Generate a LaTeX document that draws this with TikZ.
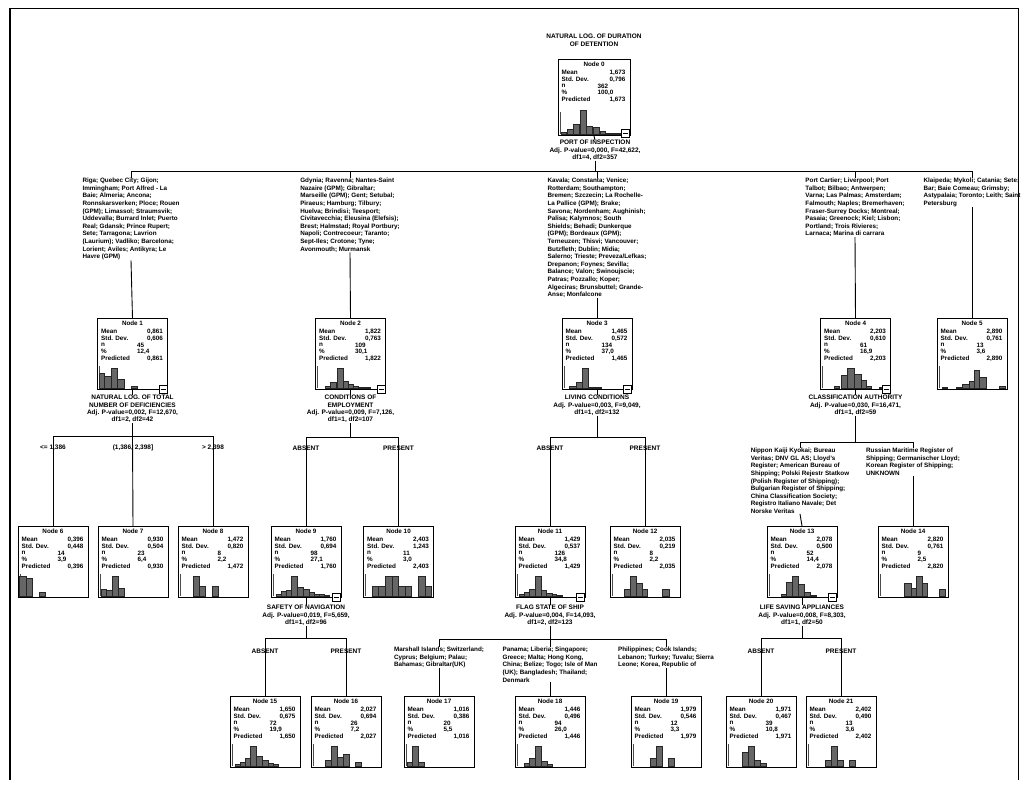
\documentclass[tikz,border=0pt]{standalone}
\usepackage{fontspec}
\setmainfont{Liberation Sans}
\usetikzlibrary{calc}
\begin{document}
\begin{tikzpicture}[x=1pt,y=-1pt,
  box/.style={draw=black, line width=1pt, minimum width=70pt, minimum height=71pt, anchor=north, inner sep=0pt},
  hd/.style={font=\fontsize{6.3}{6.5}\selectfont\bfseries, inner sep=0pt},
  lbl/.style={font=\fontsize{6.3}{6.5}\selectfont\bfseries, inner sep=0pt, anchor=west},
  val/.style={font=\fontsize{6.3}{6.5}\selectfont\bfseries, inner sep=0pt, anchor=east},
  lst/.style={font=\fontsize{6.3}{7.6}\selectfont\bfseries, align=left, inner sep=0pt, anchor=north},
  spl/.style={font=\fontsize{6.5}{7.4}\selectfont\bfseries, align=center, inner sep=0pt, anchor=north},
  cat/.style={font=\fontsize{6.5}{7.4}\selectfont\bfseries, inner sep=0pt},
  link/.style={draw=black, line width=0.9pt},
  bar/.style={fill=black!60, draw=black!85, line width=0.3pt},
  axis/.style={draw=black!70, line width=0.5pt},
]
\useasboundingbox (0,0) rectangle (1027,787);
\fill[white] (0,0) rectangle (1027,787);

% one tree node: name, centre x, top y, number, mean, std. dev., n, percent, histogram bars
\newcommand{\tnode}[9]{%
  \node[box] (#1) at (#2,#3) {};
  \node[hd] (#1-h) at ($(#1.north)+(0,5.5)$) {Node #4};
  \node[lbl] (#1-ml) at ($(#1.north west)+(4,13.5)$) {Mean};
  \node[val] (#1-mv) at ($(#1.north east)+(-5,13.5)$) {#5};
  \node[lbl] (#1-sl) at ($(#1.north west)+(4,20.5)$) {Std. Dev.};
  \node[val] (#1-sv) at ($(#1.north east)+(-5,20.5)$) {#6};
  \node[lbl] (#1-nl) at ($(#1.north west)+(4,27)$) {n};
  \node[lbl] (#1-nv) at ($(#1.north west)+(40,27)$) {#7};
  \node[lbl] (#1-pl) at ($(#1.north west)+(4,33.5)$) {\%};
  \node[lbl] (#1-pv) at ($(#1.north west)+(40,33.5)$) {#8};
  \node[lbl] (#1-rl) at ($(#1.north west)+(4,40.5)$) {Predicted};
  \node[val] (#1-rv) at ($(#1.north east)+(-5,40.5)$) {#5};
  \draw[axis] ($(#1.south west)+(2.5,-2)$) -- ++(0,-22);
  \foreach \o/\w/\h in {#9} {\fill[bar] ($(#1.south west)+(\o,-2)$) rectangle ++(\w,-\h);}
}
% collapse toggle at the lower right corner of a split node
\newcommand{\tgl}[2][3]{%
  \draw[fill=white, line width=0.6pt] ($(#2.south east)+(-9,-8+#1)$) rectangle ($(#2.south east)+(-1,#1)$);
  \draw[line width=0.6pt] ($(#2.south east)+(-7.5,-4+#1)$) -- ++(5,0);
}

% page frame
\draw[line width=1.6pt] (10,8) -- (10,780);
\draw[line width=0.8pt] (10,8) -- (1018,8) -- (1018,780);

% ---------- root ----------
\node[spl] (title) at (594,34) {NATURAL LOG. OF DURATION\\OF DETENTION};
\begin{scope}[box/.append style={minimum width=72pt, minimum height=76pt}]
\tnode{n0}{594}{59}{0}{1,673}{0,796}{362}{100,0}{4/5/2,10/6/5,16/6/10,23/6/24,29/6/8,36/6/7,43/5/3,49/14/1}
\end{scope}
\node[spl] (s0) at (595,140) {PORT OF INSPECTION\\Adj. P-value=0,000, F=42,622,\\df1=4, df2=357};
\coordinate (j0) at (595,171);

% ---------- first split ----------
\node[lst] (c1) at (131,178) {Riga; Quebec City; Gijon;\\Immingham; Port Alfred - La\\Baie; Almeria; Ancona;\\Ronnskarsverken; Ploce; Rouen\\(GPM); Limassol; Straumsvik;\\Uddevalla; Burrard Inlet; Puerto\\Real; Gdansk; Prince Rupert;\\Sete; Tarragona; Lavrion\\(Laurium); Vadliko; Barcelona;\\Lorient; Aviles; Antikyra; Le\\Havre (GPM)};
\node[lst] (c2) at (350,178) {Gdynia; Ravenna; Nantes-Saint\\Nazaire (GPM); Gibraltar;\\Marseille (GPM); Gent; Setubal;\\Piraeus; Hamburg; Tilbury;\\Huelva; Brindisi; Teesport;\\Civitavecchia; Eleusina (Elefsis);\\Brest; Halmstad; Royal Portbury;\\Napoli; Contrecoeur; Taranto;\\Sept-Iles; Crotone; Tyne;\\Avonmouth; Murmansk};
\node[lst] (c3) at (597,178) {Kavala; Constanta; Venice;\\Rotterdam; Southampton;\\Bremen; Szczecin; La Rochelle-\\La Pallice (GPM); Brake;\\Savona; Nordenham; Aughinish;\\Palisa; Kalymnos; South\\Shields; Behadi; Dunkerque\\(GPM); Bordeaux (GPM);\\Terneuzen; Thisvi; Vancouver;\\Butzfleth; Dublin; Midia;\\Salerno; Trieste; Preveza/Lefkas;\\Drepanon; Foynes; Sevilla;\\Balance; Valon; Swinoujscie;\\Patras; Pozzallo; Koper;\\Algeciras; Brunsbuttel; Grande-\\Anse; Monfalcone};
\node[lst] (c4) at (855,178) {Port Cartier; Liverpool; Port\\Talbot; Bilbao; Antwerpen;\\Varna; Las Palmas; Amsterdam;\\Falmouth; Naples; Bremerhaven;\\Fraser-Surrey Docks; Montreal;\\Pasaia; Greenock; Kiel; Lisbon;\\Portland; Trois Rivieres;\\Larnaca; Marina di carrara};
\node[lst] (c5) at (972,178) {Klaipeda; Mykoli; Catania; Sete;\\Bar; Baie Comeau; Grimsby;\\Astypalaia; Toronto; Leith; Saint\\Petersburg};

\draw[link] (n0.south) -- (s0.north);
\draw[link] (s0.south) -- (j0);
\foreach \c in {c1,c2,c3,c4,c5} {\draw[link] (j0) -| (\c.north);}

\tnode{n1}{132.5}{318}{1}{0,861}{0,606}{45}{12,4}{2/5/15,7/7/12,14/6/20,20/7/9,34/6/2}
\tnode{n2}{350.5}{318}{2}{1,822}{0,763}{109}{30,1}{10/5/2,15/6/6,22/6/20,28/5/7,33/5/4,38/5/2,43/12/1}
\tnode{n3}{597}{318}{3}{1,465}{0,572}{134}{37,0}{8/7/2,15/6/6,21/6/20,27/6/1,33/7/1}
\tnode{n4}{855.5}{318}{4}{2,203}{0,610}{61}{16,9}{14/5/2,21/6/13,27/7/20,34/7/14,41/5/8,46/5/2,59/7/1}
\tnode{n5}{972}{318}{5}{2,890}{0,761}{13}{3,6}{6/5/1,20/5/1,26/7/4,33/5/7,38/5/18,43/7/11,63/6/2}
\foreach \i in {1,...,5} {\draw[link] (c\i.south) -- (n\i.north);}
\tgl[1]{n0}
\foreach \i in {1,2,3,4} {\tgl{n\i}}

% ---------- second level splits ----------
\node[spl] (s1) at (132.5,395) {NATURAL LOG. OF TOTAL\\NUMBER OF DEFICIENCIES\\Adj. P-value=0,002, F=12,670,\\df1=2, df2=42};
\node[spl] (s2) at (350.5,395) {CONDITIONS OF\\EMPLOYMENT\\Adj. P-value=0,009, F=7,126,\\df1=1, df2=107};
\node[spl] (s3) at (597,395) {LIVING CONDITIONS\\Adj. P-value=0,003, F=9,049,\\df1=1, df2=132};
\node[spl] (s4) at (855.5,395) {CLASSIFICATION AUTHORITY\\Adj. P-value=0,030, F=16,471,\\df1=1, df2=59};
\foreach \i in {1,2,3,4} {\draw[link] (n\i.south) -- (s\i.north);}
\coordinate (j1) at (132.5,436);
\coordinate (j2) at (350.5,437);
\coordinate (j3) at (597,437);
\coordinate (j4) at (855.5,442);
\foreach \i in {1,2,3,4} {\draw[link] (s\i.south) -- (j\i);}

\tnode{n6}{53}{526}{6}{0,396}{0,448}{14}{3,9}{2/7/20,9/6/18,22/6/4}
\tnode{n7}{133}{526}{7}{0,930}{0,504}{23}{6,4}{4/5/7,9/6/6,15/6/20,21/6/8}
\tnode{n8}{213}{526}{8}{1,472}{0,820}{8}{2,2}{16/6/20,22/6/10,35/6/10}
\tnode{n9}{306}{526}{9}{1,760}{0,694}{98}{27,1}{6/5/2,11/5/5,16/5/6,21/6/20,27/6/9,33/6/7,39/5/4,44/5/2,49/5/2,54/5/1}
\tnode{n10}{398.5}{526}{10}{2,403}{1,243}{11}{3,0}{9/6/10,15/7/10,22/7/20,29/6/20,35/7/10,42/6/10,55/7/20,62/6/10}
\tnode{n11}{550}{526}{11}{1,429}{0,537}{126}{34,8}{5/5/2,10/5/4,15/6/7,21/6/20,27/5/6,32/6/3,38/4/2,42/6/1}
\tnode{n12}{645}{526}{12}{2,035}{0,219}{8}{2,2}{15/6/7,21/6/20,27/6/13,33/5/7,53/7/7}
\tnode{n13}{802}{526}{13}{2,078}{0,500}{52}{14,4}{15/5/2,20/6/14,26/6/20,32/6/12,38/6/4,44/6/1}
\tnode{n14}{913}{526}{14}{2,820}{0,761}{9}{2,5}{27/7/13,34/5/8,39/6/20,45/5/13,62/6/7}

\node[cat] (c6) at (53,448) {<= 1,386};
\node[cat] (c7) at (133,448) {(1,386, 2,398]};
\node[cat] (c8) at (213,448) {> 2,398};
\node[cat] (c9) at (306,448) {ABSENT};
\node[cat] (c10) at (398.5,448) {PRESENT};
\node[cat] (c11) at (550,448) {ABSENT};
\node[cat] (c12) at (645,448) {PRESENT};
\node[lst] (c13) at (800,448) {Nippon Kaiji Kyokai; Bureau\\Veritas; DNV GL AS; Lloyd's\\Register; American Bureau of\\Shipping; Polski Rejestr Statkow\\(Polish Register of Shipping);\\Bulgarian Register of Shipping;\\China Classification Society;\\Registro Italiano Navale; Det\\Norske Veritas};
\node[lst] (c14) at (913,448) {Russian Maritime Register of\\Shipping; Germanischer Lloyd;\\Korean Register of Shipping;\\UNKNOWN};

\draw[link] (j1) -| (n6.north);
\draw[link] (j1) -- (n7.north);
\draw[link] (j1) -| (n8.north);
\draw[link] (j2) -| (n9.north);
\draw[link] (j2) -| (n10.north);
\draw[link] (j3) -| (n11.north);
\draw[link] (j3) -| (n12.north);
\draw[link] (j4) -| (c13.north);
\draw[link] (j4) -| (c14.north);
\draw[link] (c13.south) -- (n13.north);
\draw[link] (c14.south) -- (n14.north);
\foreach \i in {9,11,13} {\tgl{n\i}}

% ---------- third level splits ----------
\node[spl] (s9) at (306,605) {SAFETY OF NAVIGATION\\Adj. P-value=0,019, F=5,659,\\df1=1, df2=96};
\node[spl] (s11) at (550,605) {FLAG STATE OF SHIP\\Adj. P-value=0,004, F=14,093,\\df1=2, df2=123};
\node[spl] (s13) at (802,605) {LIFE SAVING APPLIANCES\\Adj. P-value=0,008, F=8,303,\\df1=1, df2=50};
\foreach \i in {9,11,13} {\draw[link] (n\i.south) -- (s\i.north);}
\coordinate (j9) at (306,638);
\coordinate (j11) at (550,639);
\coordinate (j13) at (802,638);
\foreach \i in {9,11,13} {\draw[link] (s\i.south) -- (j\i);}

\node[cat] (c15) at (265,651) {ABSENT};
\node[cat] (c16) at (346,651) {PRESENT};
\node[lst] (c17) at (439,647) {Marshall Islands; Switzerland;\\Cyprus; Belgium; Palau;\\Bahamas; Gibraltar(UK)};
\node[lst] (c18) at (550,647) {Panama; Liberia; Singapore;\\Greece; Malta; Hong Kong,\\China; Belize; Togo; Isle of Man\\(UK); Bangladesh; Thailand;\\Denmark};
\node[lst] (c19) at (666,647) {Philippines; Cook Islands;\\Lebanon; Turkey; Tuvalu; Sierra\\Leone; Korea, Republic of};
\node[cat] (c20) at (761,651) {ABSENT};
\node[cat] (c21) at (841,651) {PRESENT};

\tnode{n15}{265}{696}{15}{1,650}{0,675}{72}{19,9}{6/5/2,11/5/4,16/5/8,21/6/20,27/6/10,33/6/6,39/5/3,44/5/2}
\tnode{n16}{346}{696}{16}{2,027}{0,694}{26}{7,2}{15/6/6,21/6/20,27/6/9,33/6/12,45/6/4}
\tnode{n17}{439}{696}{17}{1,016}{0,386}{20}{5,5}{4/5/4,9/6/20,15/6/4}
\tnode{n18}{550}{696}{18}{1,446}{0,496}{94}{26,0}{10/5/3,15/6/8,21/6/20,27/6/5,33/5/2}
\tnode{n19}{666}{696}{19}{1,979}{0,546}{12}{3,3}{20/6/8,26/6/20,38/6/8}
\tnode{n20}{761}{696}{20}{1,971}{0,467}{39}{10,8}{17/6/14,23/6/20,29/6/6,35/6/3}
\tnode{n21}{841}{696}{21}{2,402}{0,490}{13}{3,6}{20/6/6,26/6/20,32/6/6,44/6/6}

\draw[link] (j9) -| (n15.north);
\draw[link] (j9) -| (n16.north);
\draw[link] (j11) -| (c17.north);
\draw[link] (j11) -- (c18.north);
\draw[link] (j11) -| (c19.north);
\foreach \i in {17,18,19} {\draw[link] (c\i.south) -- (n\i.north);}
\draw[link] (j13) -| (n20.north);
\draw[link] (j13) -| (n21.north);
\end{tikzpicture}
\end{document}
